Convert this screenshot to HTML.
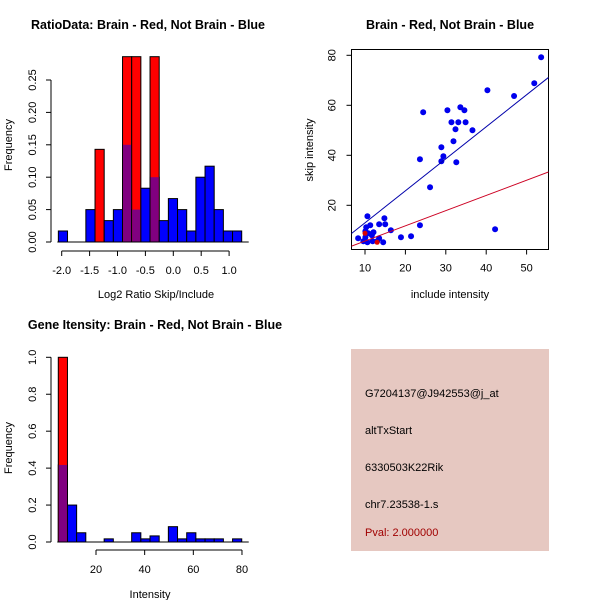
<!DOCTYPE html>
<html><head><meta charset="utf-8"><style>
body{margin:0;background:#fff}
svg{display:block;font-family:"Liberation Sans",Arial,sans-serif}
</style></head><body>
<svg id="s" width="600" height="600" xmlns="http://www.w3.org/2000/svg">
<rect width="600" height="600" fill="#fff"/>
<text x="148" y="29" font-size="12.5" font-weight="bold" text-anchor="middle">RatioData: Brain - Red, Not Brain - Blue</text>
<text x="156" y="298" font-size="11" text-anchor="middle">Log2 Ratio Skip/Include</text>
<text transform="translate(12,145) rotate(-90)" font-size="11" text-anchor="middle">Frequency</text>
<text x="450" y="29" font-size="12.5" font-weight="bold" text-anchor="middle">Brain - Red, Not Brain - Blue</text>
<text x="450" y="298" font-size="11" text-anchor="middle">include intensity</text>
<text transform="translate(313,150) rotate(-90)" font-size="11" text-anchor="middle">skip intensity</text>
<text x="155" y="329" font-size="12.5" font-weight="bold" text-anchor="middle">Gene Itensity: Brain - Red, Not Brain - Blue</text>
<text x="150" y="598" font-size="11" text-anchor="middle">Intensity</text>
<text transform="translate(12,448) rotate(-90)" font-size="11" text-anchor="middle">Frequency</text>
<g>
<rect x="351" y="349" width="198" height="202" fill="#e6c8c1"/>
<text x="365" y="397" font-size="11">G7204137@J942553@j_at</text>
<text x="365" y="434" font-size="11">altTxStart</text>
<text x="365" y="471" font-size="11">6330503K22Rik</text>
<text x="365" y="508" font-size="11">chr7.23538-1.s</text>
<text x="365" y="536" font-size="11" fill="#a00000">Pval: 2.000000</text>
</g>
<g id="g1"></g><g id="g2"></g><g id="g3"></g>
</svg>
<script>
// Ratio histogram data
const ratioBinStart = -2.06, ratioBinWidth = 0.1643;
const ratioBlue = [0.017,0,0,0.05,0,0.033,0.05,0.15,0.05,0.083,0.1,0.033,0.067,0.05,0.017,0.1,0.117,0.05,0.017,0.017];
const ratioRed  = [0,0,0,0,0.143,0,0,0.286,0.286,0,0.286,0,0,0,0,0,0,0,0,0];
const ratioXTicks = [-2.0,-1.5,-1.0,-0.5,0.0,0.5,1.0];
const ratioYTicks = [0.00,0.05,0.10,0.15,0.20,0.25];
// Scatter data
const notBrainX = [53.6,51.9,46.9,40.3,24.4,30.4,33.6,34.6,31.4,33.1,34.9,32.4,36.6,31.9,28.9,29.4,28.9,32.6,23.6,26.1,23.6,42.2,21.4,18.9,16.4,15.0,14.8,13.5,10.6,11.3,10.3,10.1,12.1,10.8,8.3,9.6,10.6,11.9,13.5,14.5,13.0,10.1,11.7];
const notBrainY = [79.2,68.8,63.7,66,57.2,58,59.2,58,53.2,53.2,53.2,50.4,50,45.6,43.2,39.6,37.6,37.2,38.4,27.2,12,10.4,7.6,7.2,10,12.4,14.8,12.4,15.6,12,11.2,9.6,9.2,8.8,6.8,5.6,5.2,5.6,6.8,5.2,5.6,7.2,8];
const brainX = [10.0,13.0];
const brainY = [8.8,5.2];
const blueFit = [0.2,1.28];   // intercept, slope
const redFit = [-0.37,0.608];
const scatXTicks = [10,20,30,40,50];
const scatYTicks = [20,40,60,80];
// Intensity histogram data
const intBinStart = 4.5, intBinWidth = 3.77;
const intBlue = [0.417,0.2,0.05,0,0,0.017,0,0,0.05,0.017,0.033,0,0.083,0.017,0.05,0.017,0.017,0.017,0,0.017];
const intRed  = [1.0,0,0,0,0,0,0,0,0,0,0,0,0,0,0,0,0,0,0,0];
const intXTicks = [20,40,60,80];
const intYTicks = [0.0,0.2,0.4,0.6,0.8,1.0];

const NS="http://www.w3.org/2000/svg";
function mk(p,t,a){const e=document.createElementNS(NS,t);for(const k in a)e.setAttribute(k,a[k]);p.appendChild(e);return e;}

function hist(g,o){
  const sx=v=>o.x0+(v-o.xv0)*o.kx, sy=v=>o.y0-v*o.ky;
  for(let i=0;i<o.blue.length;i++){
    const a=o.start+i*o.w,b=a+o.w,bv=o.blue[i],rv=o.red[i];
    if(bv>0||rv===0){const r=mk(g,'rect',{x:sx(a),y:sy(bv),width:sx(b)-sx(a),height:sy(0)-sy(bv),fill:'#0000ff',stroke:'#000','stroke-width':1});
    
    }
    if(rv>0){const r=mk(g,'rect',{x:sx(a),y:sy(rv),width:sx(b)-sx(a),height:sy(0)-sy(rv),fill:'#ff0000',stroke:'#000','stroke-width':1});
    
    
    const m=Math.min(bv,rv);
    if(m>0){const p=mk(g,'rect',{x:sx(a)+0.5,y:sy(m),width:sx(b)-sx(a)-1,height:sy(0)-sy(m)-0.5,fill:'#800080'});
    
    }}
  }
  const xa=mk(g,'g',{});
  
  
  mk(xa,'line',{x1:sx(o.xt[0]),x2:sx(o.xt[o.xt.length-1]),y1:o.xay,y2:o.xay,stroke:'#000'});
  o.xt.forEach(v=>{mk(xa,'line',{x1:sx(v),x2:sx(v),y1:o.xay,y2:o.xay+5,stroke:'#000'});
    const t=mk(xa,'text',{x:sx(v),y:o.xay+23,'font-size':11,'text-anchor':'middle'});t.textContent=o.xf(v);
    
    });
  const ya=mk(g,'g',{});
  
  
  mk(ya,'line',{x1:o.yax,x2:o.yax,y1:sy(o.yt[0]),y2:sy(o.yt[o.yt.length-1]),stroke:'#000'});
  o.yt.forEach(v=>{mk(ya,'line',{x1:o.yax,x2:o.yax-5,y1:sy(v),y2:sy(v),stroke:'#000'});
    const t=mk(ya,'text',{transform:`translate(${o.yax-15},${sy(v)}) rotate(-90)`,'font-size':11,'text-anchor':'middle'});t.textContent=o.yf(v);
    
    });
  mk(g,'line',{x1:sx(o.start)-1,x2:sx(o.start+o.blue.length*o.w)+7,y1:sy(0),y2:sy(0),stroke:'#000'});
}
hist(document.getElementById('g1'),{x0:61.7,xv0:-2,kx:55.8,y0:242,ky:648,start:ratioBinStart,w:ratioBinWidth,blue:ratioBlue,red:ratioRed,xt:ratioXTicks,yt:ratioYTicks,xay:251,yax:51,xf:v=>v.toFixed(1),yf:v=>v.toFixed(2)});
hist(document.getElementById('g3'),{x0:96,xv0:20,kx:2.433,y0:542,ky:184.7,start:intBinStart,w:intBinWidth,blue:intBlue,red:intRed,xt:intXTicks,yt:intYTicks,xay:550,yax:51,xf:v=>String(v),yf:v=>v.toFixed(1)});

// scatter
(function(){
  const g=document.getElementById('g2');
  const sx=v=>365+(v-10)*4.04, sy=v=>255.3-v*2.5;
  const L=351.5,R=548.5,T=49.5,B=249.5;
  const fr=mk(g,'rect',{x:L,y:T,width:R-L,height:B-T,fill:'none',stroke:'#000'});
  
  
  scatXTicks.forEach(v=>{mk(g,'line',{x1:sx(v),x2:sx(v),y1:B,y2:B+5,stroke:'#000'});
    const t=mk(g,'text',{x:sx(v),y:B+22,'font-size':11,'text-anchor':'middle'});t.textContent=v;
    
    });
  scatYTicks.forEach(v=>{mk(g,'line',{x1:L,x2:L-5,y1:sy(v),y2:sy(v),stroke:'#000'});
    const t=mk(g,'text',{transform:`translate(${L-16},${sy(v)}) rotate(-90)`,'font-size':11,'text-anchor':'middle'});t.textContent=v;
    
    });
  const xl=(L-365)/4.04+10, xr=(R-365)/4.04+10;
  const cp=mk(g,'clipPath',{id:'cp'});mk(cp,'rect',{x:L,y:T,width:R-L,height:B-T});
  notBrainX.forEach((x,i)=>{const c=mk(g,'circle',{cx:sx(x),cy:sy(notBrainY[i]),r:3,fill:'#0000ee'});
    
    });
  brainX.forEach((x,i)=>{const c=mk(g,'circle',{cx:sx(x),cy:sy(brainY[i]),r:2.5,fill:'#dd0000'});
    
    });
  const bl=mk(g,'line',{x1:L,y1:sy(blueFit[0]+blueFit[1]*xl),x2:R,y2:sy(blueFit[0]+blueFit[1]*xr),stroke:'#0000aa','clip-path':'url(#cp)'});
  
  
  const rl=mk(g,'line',{x1:L,y1:sy(redFit[0]+redFit[1]*xl),x2:R,y2:sy(redFit[0]+redFit[1]*xr),stroke:'#cc0022','clip-path':'url(#cp)'});
  
  
})();
</script>
</body></html>
